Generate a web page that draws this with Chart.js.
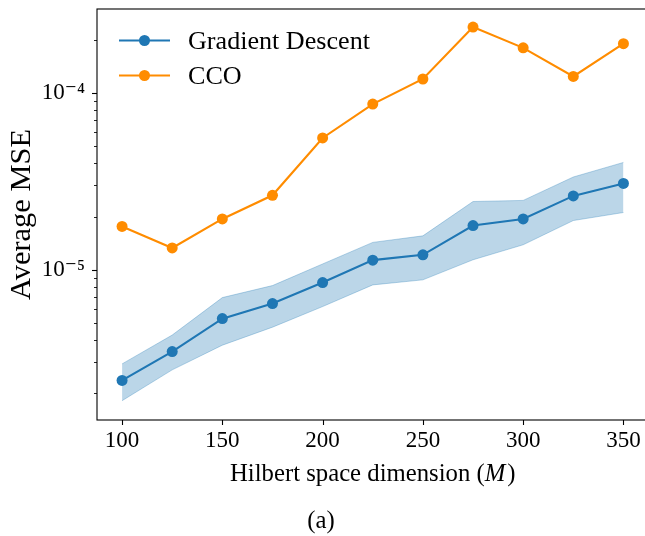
<!DOCTYPE html>
<html>
<head>
<meta charset="utf-8">
<script src="https://cdn.jsdelivr.net/npm/chart.js@4.4.1/dist/chart.umd.min.js"></script>
<style>
html,body{margin:0;padding:0;background:#fff;overflow:hidden;width:645px;height:536px}
#wrap{width:654px;height:536px;position:relative}
</style>
</head>
<body>
<div id="wrap"><canvas id="c" width="654" height="536"></canvas></div>
<script>
// ---- data ----
const dimensions = [100, 125, 150, 175, 200, 225, 250, 275, 300, 325, 350];
const gdMean  = [2.37e-6, 3.45e-6, 5.30e-6, 6.45e-6, 8.48e-6, 1.135e-5, 1.216e-5, 1.78e-5, 1.94e-5, 2.62e-5, 3.08e-5];
const gdUpper = [2.94e-6, 4.28e-6, 6.97e-6, 8.15e-6, 1.08e-5, 1.43e-5, 1.557e-5, 2.435e-5, 2.47e-5, 3.35e-5, 4.05e-5];
const gdLower = [1.82e-6, 2.72e-6, 3.75e-6, 4.74e-6, 6.20e-6, 8.22e-6, 8.78e-6, 1.14e-5, 1.386e-5, 1.90e-5, 2.11e-5];
const ccoMean = [1.76e-5, 1.33e-5, 1.94e-5, 2.64e-5, 5.57e-5, 8.66e-5, 1.20e-4, 2.36e-4, 1.80e-4, 1.24e-4, 1.90e-4];
const xTickValues = [100, 150, 200, 250, 300, 350];
const yMajorTicks = [1e-5, 1e-4];
const yMajorLabels = ['10\u207B\u2075', '10\u207B\u2074'];
const yMinorTicks = [2e-6,3e-6,4e-6,5e-6,6e-6,7e-6,8e-6,9e-6,2e-5,3e-5,4e-5,5e-5,6e-5,7e-5,8e-5,9e-5,2e-4];
const seriesNames = ['Gradient Descent', 'CCO'];
const xTitleParts = ['Hilbert space dimension (', 'M', ')'];
const yTitle = 'Average MSE';
const caption = '(a)';

// ---- styling ----
const FAM = "'Liberation Serif', 'DejaVu Serif', serif";
const BLUE = '#1f77b4', ORANGE = '#ff8c00';
const BAND = 'rgba(31,119,180,0.3)';

const pts = arr => dimensions.map((x, i) => ({x: x, y: arr[i]}));

function fitSize(ctx, text, target, style) {
  ctx.font = (style || '') + ' 100px ' + FAM;
  return 100 * target / ctx.measureText(text).width;
}

const decorPlugin = {
  id: 'decor',
  afterDraw(chart) {
    const ctx = chart.ctx, a = chart.chartArea;
    const xs = chart.scales.x, ys = chart.scales.y;
    ctx.save();
    ctx.strokeStyle = '#000';
    // spines
    ctx.lineWidth = 1.1;
    ctx.strokeRect(a.left, a.top, a.right - a.left, a.bottom - a.top);
    // x ticks
    xTickValues.forEach(v => {
      const p = Math.round(xs.getPixelForValue(v)) + 0.5;
      ctx.beginPath(); ctx.moveTo(p, a.bottom); ctx.lineTo(p, a.bottom + 5); ctx.stroke();
    });
    // y major ticks
    yMajorTicks.forEach(v => {
      const p = Math.round(ys.getPixelForValue(v)) + 0.5;
      ctx.beginPath(); ctx.moveTo(a.left, p); ctx.lineTo(a.left - 5, p); ctx.stroke();
    });
    ctx.lineWidth = 0.85;
    yMinorTicks.forEach(v => {
      const p = Math.round(ys.getPixelForValue(v)) + 0.5;
      ctx.beginPath(); ctx.moveTo(a.left, p); ctx.lineTo(a.left - 3, p); ctx.stroke();
    });

    // legend (inside, upper left)
    const cols = [BLUE, ORANGE];
    const rowsY = [40.5, 75.5];
    ctx.textAlign = 'left';
    ctx.textBaseline = 'alphabetic';
    const legSize = fitSize(ctx, seriesNames[0], 182);
    seriesNames.forEach((name, i) => {
      const y = rowsY[i];
      ctx.strokeStyle = cols[i]; ctx.lineWidth = 2.1;
      ctx.beginPath(); ctx.moveTo(119, y); ctx.lineTo(170, y); ctx.stroke();
      ctx.fillStyle = cols[i];
      ctx.beginPath(); ctx.arc(144.5, y, 5.5, 0, Math.PI * 2); ctx.fill();
      ctx.fillStyle = '#000';
      ctx.font = legSize + 'px ' + FAM;
      ctx.fillText(name, 188, y + 8);
    });

    // x title with italic M
    const xSize = fitSize(ctx, xTitleParts.join(''), 285);
    ctx.font = xSize + 'px ' + FAM;
    const w0 = ctx.measureText(xTitleParts[0]).width;
    const w2 = ctx.measureText(xTitleParts[2]).width;
    ctx.font = 'italic ' + xSize + 'px ' + FAM;
    const w1 = ctx.measureText(xTitleParts[1]).width + 2;
    const total = w0 + w1 + w2;
    let x = (a.left + a.right) / 2 - total / 2;
    const by = 481;
    ctx.font = xSize + 'px ' + FAM;
    ctx.fillText(xTitleParts[0], x, by); x += w0;
    ctx.font = 'italic ' + xSize + 'px ' + FAM;
    ctx.fillText(xTitleParts[1], x, by); x += w1;
    ctx.font = xSize + 'px ' + FAM;
    ctx.fillText(xTitleParts[2], x, by);

    // y title
    const ySize = fitSize(ctx, yTitle, 171);
    ctx.save();
    ctx.translate(22, (a.top + a.bottom) / 2);
    ctx.rotate(-Math.PI / 2);
    ctx.font = ySize + 'px ' + FAM;
    ctx.textAlign = 'center';
    ctx.textBaseline = 'middle';
    ctx.fillText(yTitle, 0, 0);
    ctx.restore();

    // caption
    ctx.font = xSize + 'px ' + FAM;
    ctx.textAlign = 'center';
    ctx.textBaseline = 'middle';
    ctx.fillText(caption, 321, 521);
    ctx.restore();
  }
};

new Chart(document.getElementById('c'), {
  type: 'line',
  data: {
    datasets: [
      {label: 'upper', data: pts(gdUpper), borderColor: BAND, borderWidth: 1, backgroundColor: BAND,
       fill: '+1', pointRadius: 0, tension: 0, order: 5},
      {label: 'lower', data: pts(gdLower), borderColor: BAND, borderWidth: 1, backgroundColor: BAND,
       fill: false, pointRadius: 0, tension: 0, order: 5},
      {label: seriesNames[0], data: pts(gdMean), borderColor: BLUE, borderWidth: 2.1, backgroundColor: BLUE,
       pointBackgroundColor: BLUE, pointBorderWidth: 0, pointRadius: 5.5, fill: false, tension: 0, order: 1},
      {label: seriesNames[1], data: pts(ccoMean), borderColor: ORANGE, borderWidth: 2.1, backgroundColor: ORANGE,
       pointBackgroundColor: ORANGE, pointBorderWidth: 0, pointRadius: 5.5, fill: false, tension: 0, order: 0}
    ]
  },
  options: {
    responsive: false,
    animation: false,
    devicePixelRatio: 1,
    events: [],
    layout: {padding: {left: 0, top: 9, right: 3, bottom: 0}},
    plugins: {legend: {display: false}, tooltip: {enabled: false}, title: {display: false}},
    scales: {
      x: {
        type: 'linear', min: 87.5, max: 362.5,
        grid: {display: false, drawTicks: false},
        border: {display: false},
        afterFit: s => { s.height = 116; s.paddingLeft = 0; s.paddingRight = 0; },
        afterBuildTicks: s => { s.ticks = xTickValues.map(v => ({value: v})); },
        ticks: {autoSkip: false, maxRotation: 0, padding: 7, color: '#000',
                font: {family: FAM, size: 23}, callback: v => String(v)}
      },
      y: {
        type: 'logarithmic', min: 1.416e-6, max: 2.985e-4,
        grid: {display: false, drawTicks: false},
        border: {display: false},
        afterFit: s => { s.width = 97; s.paddingTop = 0; s.paddingBottom = 0; },
        afterBuildTicks: s => { s.ticks = yMajorTicks.map(v => ({value: v})); },
        ticks: {autoSkip: false, padding: 12, color: '#000',
                font: {family: FAM, size: 23},
                callback: v => { const i = yMajorTicks.findIndex(m => Math.abs(m - v) / m < 1e-6); return i >= 0 ? yMajorLabels[i] : ''; }}
      }
    }
  },
  plugins: [decorPlugin]
});
</script>
</body>
</html>
